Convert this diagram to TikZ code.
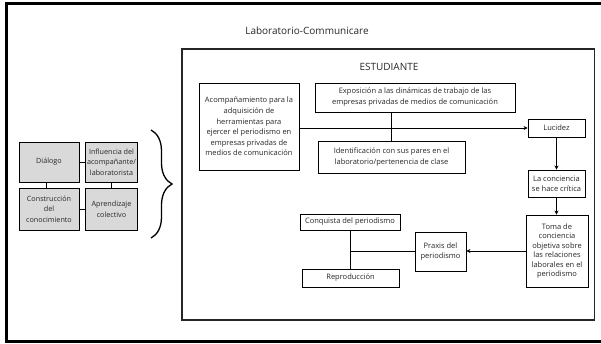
\documentclass[tikz,border=0pt]{standalone}
\usepackage{fontspec}
\setmainfont{Open Sans}
\usetikzlibrary{arrows.meta,decorations.pathreplacing}
\begin{document}
\begin{tikzpicture}[x=1pt,y=-1pt,
  box/.style={draw=black,line width=0.9pt,inner sep=0pt,align=center,
    font=\fontsize{7.5}{10}\selectfont,text=black!85},
  gbox/.style={box,fill=gray!30,font=\fontsize{7.2}{10.6}\selectfont},
  conn/.style={line width=0.9pt},
  arr/.style={conn,-{Stealth[length=4pt,width=4pt]}},
  big/.style={font=\fontsize{10}{12}\selectfont,text=black!85}]
\useasboundingbox (0,0) rectangle (601,343);
\draw[line width=3pt] (610,3.5) -- (6.5,3.5) -- (6.5,341.5) -- (610,341.5);
\node[big] (title) at (307,31) {Laboratorio-Communicare};
\node[draw=black!85,line width=1.1pt,minimum width=412.5pt,minimum height=271pt,inner sep=0pt] (frame) at (388.25,184.5) {};
\node[big] (estud) at (389,67) {ESTUDIANTE};
% left grid
\node[gbox,minimum width=60pt,minimum height=40pt] (dial) at (49,162) {Diálogo};
\node[gbox,minimum width=52pt,minimum height=40pt] (infl) at (111.5,162) {Influencia del\\acompañante/\\laboratorista};
\node[gbox,minimum width=60pt,minimum height=42pt] (cons) at (49,209) {Construcción\\del\\conocimiento};
\node[gbox,minimum width=52pt,minimum height=42pt] (apre) at (111.5,209) {Aprendizaje\\colectivo};
\draw[conn] (dial.east) -- (infl.west);
\draw[conn] ([xshift=-3pt]dial.south) -- ([xshift=-3pt]dial.south |- cons.north);
\draw[conn] (infl.south) -- (apre.north);
\draw[conn] (cons.east) -- (apre.west);
\draw[decorate,decoration={brace,amplitude=21pt},line width=1.3pt] (151,130) -- (151,238);
% student nodes
\node[box,minimum width=100pt,minimum height=87pt,font=\fontsize{7.5}{10.6}\selectfont] (acomp) at (249,126.5) {Acompañamiento para la\\adquisición de\\herramientas para\\ejercer el periodismo en\\empresas privadas de\\medios de comunicación};
\node[box,minimum width=200pt,minimum height=29pt,font=\fontsize{7.5}{11}\selectfont] (expo) at (415,97.5) {Exposición a las dinámicas de trabajo de las\\empresas privadas de medios de comunicación};
\node[box,minimum width=147pt,minimum height=32pt,font=\fontsize{7.5}{11}\selectfont] (iden) at (391.5,157.5) {Identificación con sus pares en el\\laboratorio/pertenencia de clase};
\node[box,minimum width=57pt,minimum height=18pt] (luc) at (556.5,128) {Lucidez};
\node[box,minimum width=57pt,minimum height=27pt] (conc) at (556.5,183.5) {La conciencia\\se hace crítica};
\node[box,minimum width=62pt,minimum height=72pt,font=\fontsize{7.5}{9.4}\selectfont] (toma) at (557,251) {Toma de\\conciencia\\objetiva sobre\\las relaciones\\laborales en el\\periodismo};
\node[box,minimum width=51pt,minimum height=39pt] (prax) at (440.5,251.5) {Praxis del\\periodismo};
\node[box,minimum width=100pt,minimum height=16pt] (conq) at (350,222) {Conquista del periodismo};
\node[box,minimum width=97pt,minimum height=18pt] (repr) at (350.5,278) {Reproducción};
% connectors
\draw[arr] (luc.west -| acomp.east) -- (luc.west);
\draw[conn] (iden.north) -- (iden.north |- expo.south);
\draw[arr] (luc.south) -- (conc.north);
\draw[arr] (conc.south) -- (conc.south |- toma.north);
\draw[arr] (toma.west) -- (toma.west -| prax.east);
\draw[conn] (prax.west) -- (prax.west -| conq.south);
\draw[conn] (conq.south) -- (conq.south |- repr.north);
\end{tikzpicture}
\end{document}
